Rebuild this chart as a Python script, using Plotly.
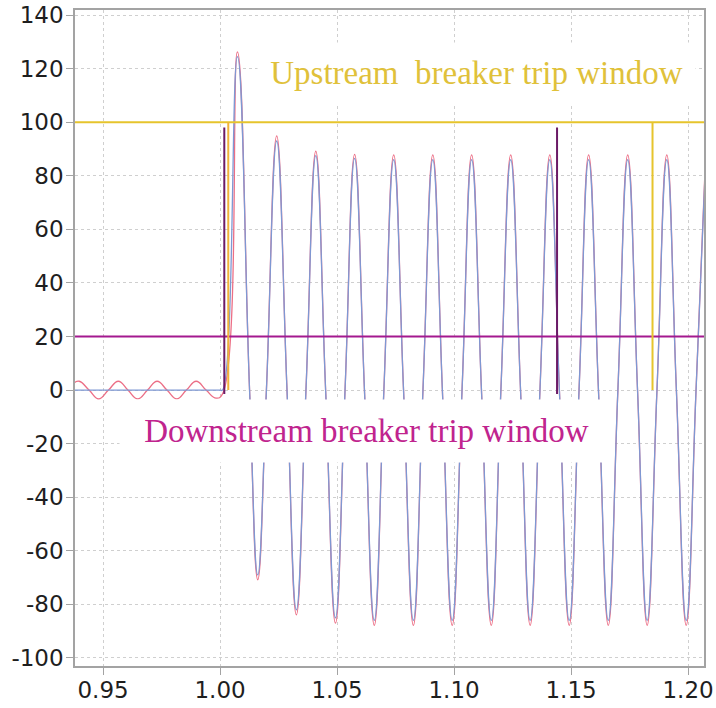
import plotly.graph_objects as go

# ---------------- data ----------------
# pre-fault small current (red trace only)
pre_t = [0.9375, 0.9398, 0.9440, 0.9481, 0.9523, 0.9565, 0.9606, 0.9648, 0.9690,
         0.9731, 0.9773, 0.9815, 0.9856, 0.9898, 0.9940, 0.9983, 1.0010]
pre_red = [2.6, 3.3, 0.0, -3.3, 0.0, 3.3, 0.0, -3.3, 0.0,
           3.3, 0.0, -3.3, 0.0, 3.3, 0.0, -3.0, -1.5]

# blue trace before the fault
pre_blue_t = [0.9375, 1.0000, 1.0010]
pre_blue = [0.0, 0.0, 0.0]

# post-fault key points (extrema and zero crossings)
post_t = [1.0074, 1.0126, 1.0161, 1.0198, 1.0242, 1.0286, 1.0326, 1.0367,
          1.0409, 1.0451, 1.0493, 1.0534, 1.0575, 1.0617, 1.0659, 1.0700,
          1.0742, 1.0784, 1.0826, 1.0867, 1.0909, 1.0950, 1.0992, 1.1034,
          1.1075, 1.1117, 1.1159, 1.1200, 1.1242, 1.1284, 1.1325, 1.1367,
          1.1409, 1.1450, 1.1492, 1.1534, 1.1575, 1.1617, 1.1659, 1.1700,
          1.1742, 1.1784, 1.1825, 1.1867, 1.1909, 1.1950, 1.1992, 1.2034,
          1.2075]
post_blue = [124.5, 0, -69.0, 0, 93.0, 0, -82.0, 0,
             87.5, 0, -85.0, 0, 86.5, 0, -86.0, 0,
             86.0, 0, -86.0, 0, 86.0, 0, -86.0, 0,
             86.0, 0, -86.0, 0, 86.0, 0, -86.0, 0,
             86.0, 0, -86.0, 0, 86.0, 0, -86.0, 0,
             86.0, 0, -86.0, 0, 86.0, 0, -86.0, 0,
             86.0]
post_red = [126.3, 0, -70.8, 0, 94.9, 0, -83.9, 0,
            89.2, 0, -87.0, 0, 88.0, 0, -87.8, 0,
            87.8, 0, -87.8, 0, 87.8, 0, -87.8, 0,
            87.8, 0, -87.8, 0, 87.8, 0, -87.8, 0,
            87.8, 0, -87.8, 0, 87.8, 0, -87.8, 0,
            87.8, 0, -87.8, 0, 87.8, 0, -87.8, 0,
            87.8]

# trip-window levels and edges
x_span = [0.930, 1.215]
upstream_level = 100
downstream_level = 20
up_open_t, up_close_t = 1.0035, 1.1848
down_open_t, down_close_t = 1.0018, 1.1440
up_edge_y = [0, 100]
down_edge_y = [-1.5, 98]

x_ticks = [0.95, 1.00, 1.05, 1.10, 1.15, 1.20]
x_tick_text = ["0.95", "1.00", "1.05", "1.10", "1.15", "1.20"]
y_ticks = [-100, -80, -60, -40, -20, 0, 20, 40, 60, 80, 100, 120, 140]
y_tick_text = ["-100", "-80", "-60", "-40", "-20", "0", "20", "40", "60",
               "80", "100", "120", "140"]

labels = ["Upstream\u00a0 breaker trip window", "Downstream breaker trip window"]

# ---------------- figure ----------------
RED = "#ec6f86"
BLUE = "#7e98d3"
GOLD = "#e6c42c"
MAGENTA = "#a4198f"
PURPLE = "#6b1a66"

fig = go.Figure()

fig.add_trace(go.Scatter(x=pre_t + post_t, y=pre_red + post_red, mode="lines",
                         line=dict(color=RED, width=1.3, shape="spline", smoothing=1.3)))
fig.add_trace(go.Scatter(x=pre_blue_t + post_t, y=pre_blue + post_blue, mode="lines",
                         line=dict(color=BLUE, width=1.3, shape="spline", smoothing=1.3)))

# horizontal levels
fig.add_trace(go.Scatter(x=x_span, y=[upstream_level] * 2, mode="lines",
                         line=dict(color=GOLD, width=2)))
fig.add_trace(go.Scatter(x=x_span, y=[downstream_level] * 2, mode="lines",
                         line=dict(color=MAGENTA, width=2)))
# vertical edges
fig.add_trace(go.Scatter(x=[up_open_t] * 2, y=up_edge_y, mode="lines",
                         line=dict(color="#f0b33a", width=2)))
fig.add_trace(go.Scatter(x=[up_close_t] * 2, y=up_edge_y, mode="lines",
                         line=dict(color=GOLD, width=2)))
fig.add_trace(go.Scatter(x=[down_open_t] * 2, y=down_edge_y, mode="lines",
                         line=dict(color=PURPLE, width=2)))
fig.add_trace(go.Scatter(x=[down_close_t] * 2, y=down_edge_y, mode="lines",
                         line=dict(color=PURPLE, width=2)))

fig.add_annotation(x=1.1096, y=118.4, xref="x", yref="y", text=labels[0],
                   showarrow=False, bgcolor="white", width=437, height=60,
                   borderpad=0, xanchor="center", yanchor="middle",
                   font=dict(family="Liberation Serif", size=33, color="#e0c13a"))
fig.add_annotation(x=1.0626, y=-15.2, xref="x", yref="y", text=labels[1],
                   showarrow=False, bgcolor="white", width=493, height=62,
                   borderpad=0, xanchor="center", yanchor="middle",
                   font=dict(family="Liberation Serif", size=33, color="#c0248e"))

axis_common = dict(showline=True, linecolor="#a3a3a3", linewidth=1.5, mirror=True,
                   ticks="outside", ticklen=7, tickcolor="#a3a3a3",
                   showgrid=True, gridcolor="#cfcfcf", griddash="dot", gridwidth=1,
                   zeroline=False, automargin=False,
                   tickfont=dict(family="DejaVu Sans", size=23, color="#1e1e1e"))

fig.update_xaxes(range=[0.938, 1.2068], tickvals=x_ticks, ticktext=x_tick_text,
                 ticklabelstandoff=-4, **axis_common)
fig.update_yaxes(range=[-103, 141.9], tickvals=y_ticks, ticktext=y_tick_text,
                 ticklabelstandoff=-2, **axis_common)

fig.update_layout(width=716, height=708, showlegend=False,
                  plot_bgcolor="white", paper_bgcolor="white",
                  margin=dict(l=75, r=12, t=10, b=42))

fig.write_html("out.html", config={"displayModeBar": False},
               post_script="document.body.style.margin='0';"
                           "document.body.style.overflow='hidden';")
